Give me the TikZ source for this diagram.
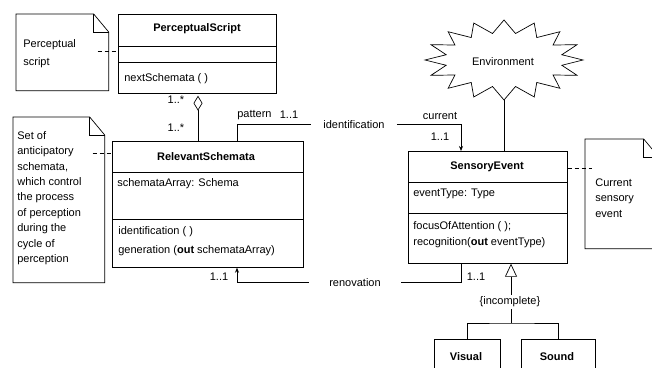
\documentclass[tikz,border=0pt]{standalone}
\usepackage{fontspec}
\setmainfont{Liberation Sans}
\usetikzlibrary{calc,arrows.meta}
\newcommand\umlnotedraw[1]{%
  \draw (#1.north west) -- ([xshift=-15pt]#1.north east) -- ([yshift=-18pt]#1.north east) -- (#1.south east) -- (#1.south west) -- cycle;
  \draw ([xshift=-15pt]#1.north east) -- ([xshift=-15pt,yshift=-18pt]#1.north east) -- ([yshift=-18pt]#1.north east);}
\begin{document}
\begin{tikzpicture}[x=1pt,y=-1pt,line width=0.7pt,
  txt/.style={inner sep=0pt,font=\fontsize{11}{13}\selectfont},
  ttl/.style={inner sep=0pt,font=\fontsize{11}{13}\selectfont\bfseries},
  umlbox/.style={draw,inner sep=0pt,anchor=north west},
  notebox/.style={inner sep=0pt,anchor=north west},
  notetxt/.style={inner sep=0pt,anchor=north west,align=left},
  dep/.style={dash pattern=on 4pt off 3pt},
  nav/.style={-{Stealth[length=5pt,width=4pt]}},
  gen/.style={-{Triangle[open,length=13pt,width=12pt]}},
  agg/.style={-{Diamond[open,length=15pt,width=9pt]}}]
\useasboundingbox (0,0) rectangle (652,367);
\clip (0,0) rectangle (652,367);
\fill[white] (0,0) rectangle (652,367);

% ---------- classes ----------
\node[umlbox,minimum width=158pt,minimum height=79pt] (ps) at (118,14) {};
\draw ([yshift=-32pt]ps.north west) -- ([yshift=-32pt]ps.north east);
\draw ([yshift=-48pt]ps.north west) -- ([yshift=-48pt]ps.north east);
\node[ttl] (pst) at (197,29) {PerceptualScript};
\node[txt,anchor=west] (psm) at (124,79) {nextSchemata ( )};

\node[umlbox,minimum width=191pt,minimum height=126pt] (rs) at (112,141) {};
\draw ([yshift=-31pt]rs.north west) -- ([yshift=-31pt]rs.north east);
\draw ([yshift=-78pt]rs.north west) -- ([yshift=-78pt]rs.north east);
\node[ttl] (rst) at (206,157) {RelevantSchemata};
\node[txt,anchor=west] (rsa) at (117,184) {schemataArray: Schema};
\node[txt,anchor=west] (rsm1) at (118,232) {identification ( )};
\node[txt,anchor=west] (rsm2) at (118,251) {generation (\textbf{out} schemataArray)};

\node[umlbox,minimum width=159pt,minimum height=112pt] (se) at (408,151) {};
\draw ([yshift=-31pt]se.north west) -- ([yshift=-31pt]se.north east);
\draw ([yshift=-62pt]se.north west) -- ([yshift=-62pt]se.north east);
\node[ttl] (set) at (487,167) {SensoryEvent};
\node[txt,anchor=west] (sea) at (413,194) {eventType: Type};
\node[txt,anchor=west] (sem1) at (413,227) {focusOfAttention ( );};
\node[txt,anchor=west] (sem2) at (413,243) {recognition(\textbf{out} eventType)};

\node[umlbox,minimum width=66pt,minimum height=45pt] (vis) at (434,339) {};
\node[ttl] (vist) at (466,357) {Visual};
\node[umlbox,minimum width=74pt,minimum height=45pt] (snd) at (521,339) {};
\node[ttl] (sndt) at (557,357) {Sound};

% ---------- notes ----------
\node[notebox,minimum width=92pt,minimum height=76pt] (n1) at (16,14) {};
\umlnotedraw{n1}
\node[notetxt,font=\fontsize{11}{18}\selectfont] (n1t) at (23,39) {Perceptual\\script};

\node[notebox,minimum width=91pt,minimum height=165pt] (n2) at (13,117) {};
\umlnotedraw{n2}
\node[notetxt,font=\fontsize{11}{15.4}\selectfont] (n2t) at (17,131) {Set of\\anticipatory\\schemata,\\which control\\the process\\of perception\\during the\\cycle of\\perception};

\node[notebox,minimum width=73pt,minimum height=109pt] (n3) at (585,139) {};
\umlnotedraw{n3}
\node[notetxt,font=\fontsize{11}{15.5}\selectfont] (n3t) at (595,178) {Current\\sensory\\event};

\draw[dep] ([xshift=-11pt]n1.east |- 0,51) -- (ps.west |- 0,51);
\draw[dep] ([xshift=-12pt]n2.east |- 0,153) -- (rs.west |- 0,153);
\draw[dep] (se.east |- 0,168) -- ([xshift=7pt]n3.west |- 0,168);

% ---------- environment ----------
\node[txt] (env) at (503,62) {Environment};
\coordinate (envc) at (504,60);
\draw ($(envc)+(90:79 and 40)$)
  \foreach \i in {1,...,31}{ -- ($(envc)+({90+\i*11.25}:{ifthenelse(isodd(\i),59,79)} and {ifthenelse(isodd(\i),27,40)})$) } -- cycle;
\coordinate (envb) at (504,100);
\draw (envb) -- (se.north -| envb);

% ---------- aggregation ----------
\coordinate (aggx) at (198,0);
\draw[agg] (rs.north -| aggx) -- ([yshift=-2pt]ps.south -| aggx);
\node[txt] (m1) at (176,100) {1..*};
\node[txt] (m2) at (176,128) {1..*};

% ---------- identification ----------
\node[txt,inner xsep=12pt] (ident) at (354,125) {identification};
\coordinate (px) at (237,0);
\coordinate (cx) at (461,0);
\draw (rs.north -| px) |- (ident.west |- 0,124);
\draw[nav] (ident.east |- 0,124) -| (se.north -| cx);
\node[txt,anchor=west] (pat) at (237,115) {pattern};
\node[txt] (pm) at (289,115) {1..1};
\node[txt] (cur) at (440,116) {current};
\node[txt] (cm) at (440,137) {1..1};

% ---------- renovation ----------
\node[txt,inner xsep=20pt] (ren) at (355,283) {renovation};
\draw[nav] (ren.west |- 0,282) -| (rs.south -| px);
\draw (ren.east |- 0,282) -| (se.south -| cx);
\node[txt] (rm1) at (219,277) {1..1};
\node[txt] (rm2) at (476,277) {1..1};

% ---------- generalization ----------
\coordinate (gj) at (511,323);
\draw[gen] (gj) -- (se.south -| gj);
\node[txt,fill=white,inner sep=1.5pt] (inc) at (510,302) {\{incomplete\}};
\draw (vis.north) |- (gj) -| (snd.north);
\end{tikzpicture}
\end{document}
